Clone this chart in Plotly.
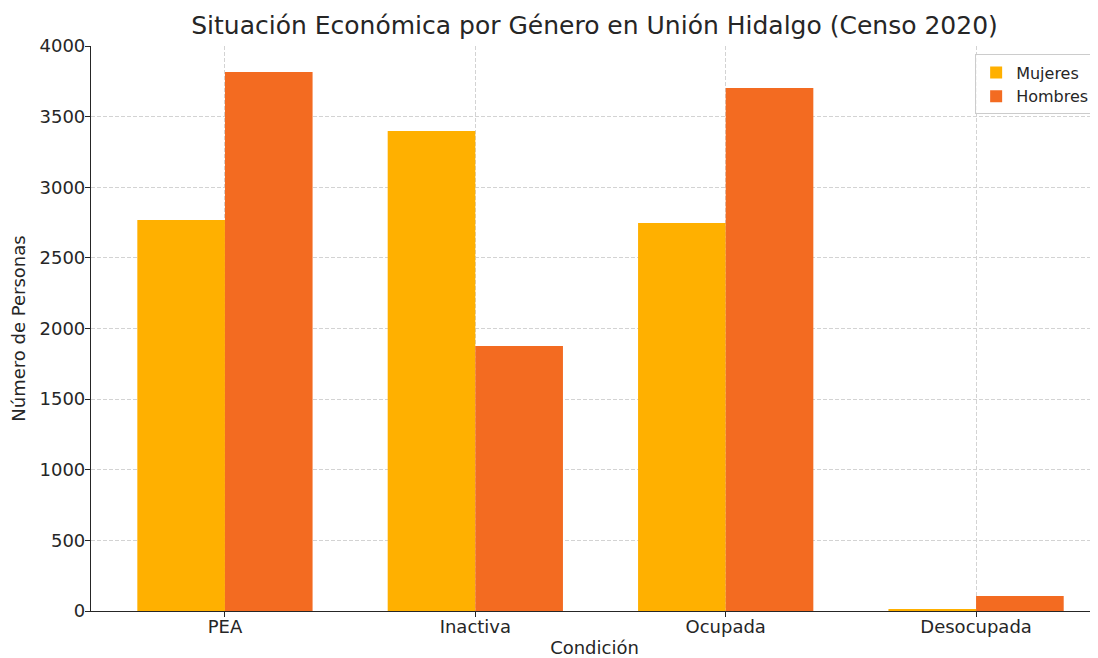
import plotly.graph_objects as go

# valores (Censo 2020, Unión Hidalgo)
condiciones = ["PEA", "Inactiva", "Ocupada", "Desocupada"]
mujeres = [2768, 3398, 2747, 15]
hombres = [3816, 1876, 3703, 106]
y_ticks = [0, 500, 1000, 1500, 2000, 2500, 3000, 3500, 4000]

font_family = "DejaVu Sans"
text_color = "#262626"

fig = go.Figure()
fig.add_trace(go.Bar(x=condiciones, y=mujeres, name="Mujeres",
                     marker=dict(color="#FFB000", line=dict(width=0))))
fig.add_trace(go.Bar(x=condiciones, y=hombres, name="Hombres",
                     marker=dict(color="#F36B21", line=dict(width=0))))

# the page body has an 8px margin, so the figure is shrunk to fit the window
fig.update_layout(
    width=1090, height=650,
    margin=dict(l=83, r=0, t=38, b=47, autoexpand=False),
    paper_bgcolor="white", plot_bgcolor="white",
    font=dict(family=font_family, color=text_color, size=18),
    barmode="group", bargap=0.3, bargroupgap=0,
    title=dict(text="Situación Económica por Género en Unión Hidalgo (Censo 2020)",
               x=0.5, xref="paper", y=0.974, yanchor="middle",
               font=dict(size=25, color=text_color)),
    legend=dict(x=0.878, xanchor="left", y=0.985, yanchor="top",
                bgcolor="rgba(255,255,255,0.8)", bordercolor="#cccccc",
                borderwidth=1, font=dict(size=16), itemwidth=30,
                tracegroupgap=0),
    showlegend=True,
)

fig.update_xaxes(
    range=[-0.535, 3.487], automargin=False,
    title=dict(text="Condición", font=dict(size=18), standoff=7),
    showline=True, linecolor="#262626", linewidth=1.2, mirror=False,
    ticks="outside", ticklen=5, tickcolor="#262626", ticklabelstandoff=-6,
    showgrid=True, gridcolor="#d3d3d3", griddash="4px,2px", gridwidth=1,
    layer="above traces", tickfont=dict(size=18),
)
fig.update_yaxes(
    range=[0, 4000], tickvals=y_ticks, automargin=False,
    title=dict(text="Número de Personas", font=dict(size=18), standoff=14),
    showline=True, linecolor="#262626", linewidth=1.2,
    ticks="outside", ticklen=5, tickcolor="#262626", ticklabelstandoff=-4,
    showgrid=True, gridcolor="#d3d3d3", griddash="4px,2px", gridwidth=1,
    zeroline=False, layer="above traces", tickfont=dict(size=18),
)

fig.write_html("out.html")
